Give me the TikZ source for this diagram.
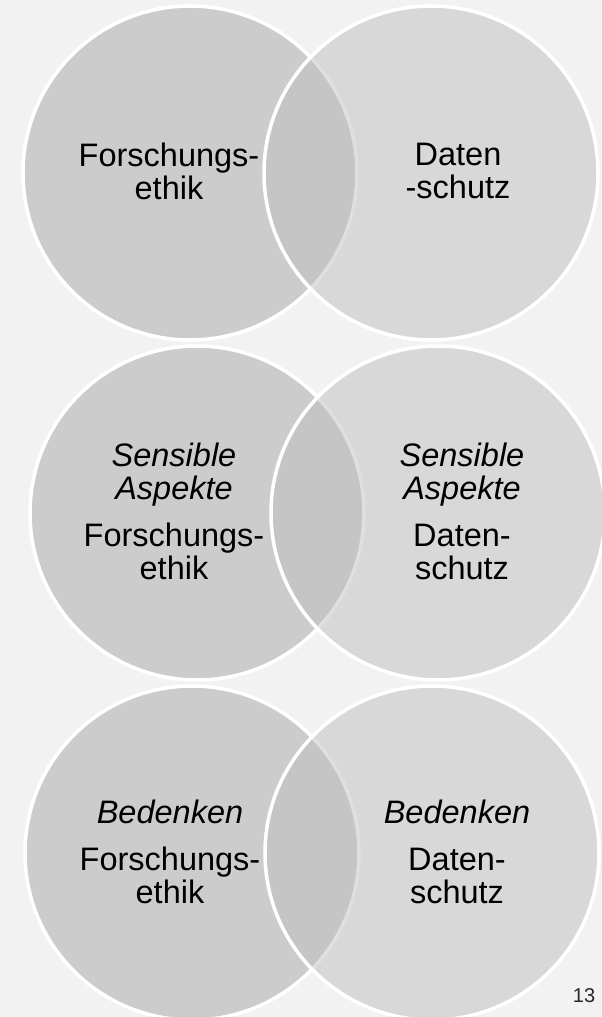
\documentclass[tikz,border=0pt]{standalone}
\usepackage{fontspec}
\setmainfont{Liberation Sans}

\definecolor{slidebg}{RGB}{242,242,242}
\definecolor{leftgray}{RGB}{204,204,204}
\definecolor{rightgray}{RGB}{192,192,192}

\tikzset{
  circleleft/.style={draw=white, line width=3.5pt, fill=leftgray},
  circleright/.style={draw=white, line width=3.5pt, fill=rightgray, fill opacity=0.5},
  circletext/.style={align=center, inner sep=0pt, font=\fontsize{32.5}{33}\selectfont}
}

\begin{document}
\begin{tikzpicture}[x=1pt, y=-1pt]
% Set the circle radius
\def\rad{167}

% Background of the slide
\fill[slidebg] (0,0) rectangle (602,1017);
\useasboundingbox (0,0) rectangle (602,1017);

% First pair
\draw[circleleft] (190,173) circle (\rad);
\draw[circleright] (431,173) circle (\rad);
\node[circletext] (ethikA) at (169,171) {Forschungs-\\ethik};
\node[circletext] (schutzA) at (458,171) {Daten\\-schutz};

% Second pair
\draw[circleleft] (197,513) circle (\rad);
\draw[circleright] (438,513) circle (\rad);
\node[circletext] (ethikB) at (174,511) {\textit{Sensible}\\\textit{Aspekte}\\[14pt]Forschungs-\\ethik};
\node[circletext] (schutzB) at (462,511) {\textit{Sensible}\\\textit{Aspekte}\\[14pt]Daten-\\schutz};

% Third pair
\draw[circleleft] (192,853) circle (\rad);
\draw[circleright] (432,853) circle (\rad);
\node[circletext] (ethikC) at (170,852) {\textit{Bedenken}\\[14pt]Forschungs-\\ethik};
\node[circletext] (schutzC) at (457,852) {\textit{Bedenken}\\[14pt]Daten-\\schutz};

% Page number
\node[font=\fontsize{20}{22}\selectfont, text=black!85, inner sep=0pt] (pagenum) at (584,996) {13};
\end{tikzpicture}
\end{document}
